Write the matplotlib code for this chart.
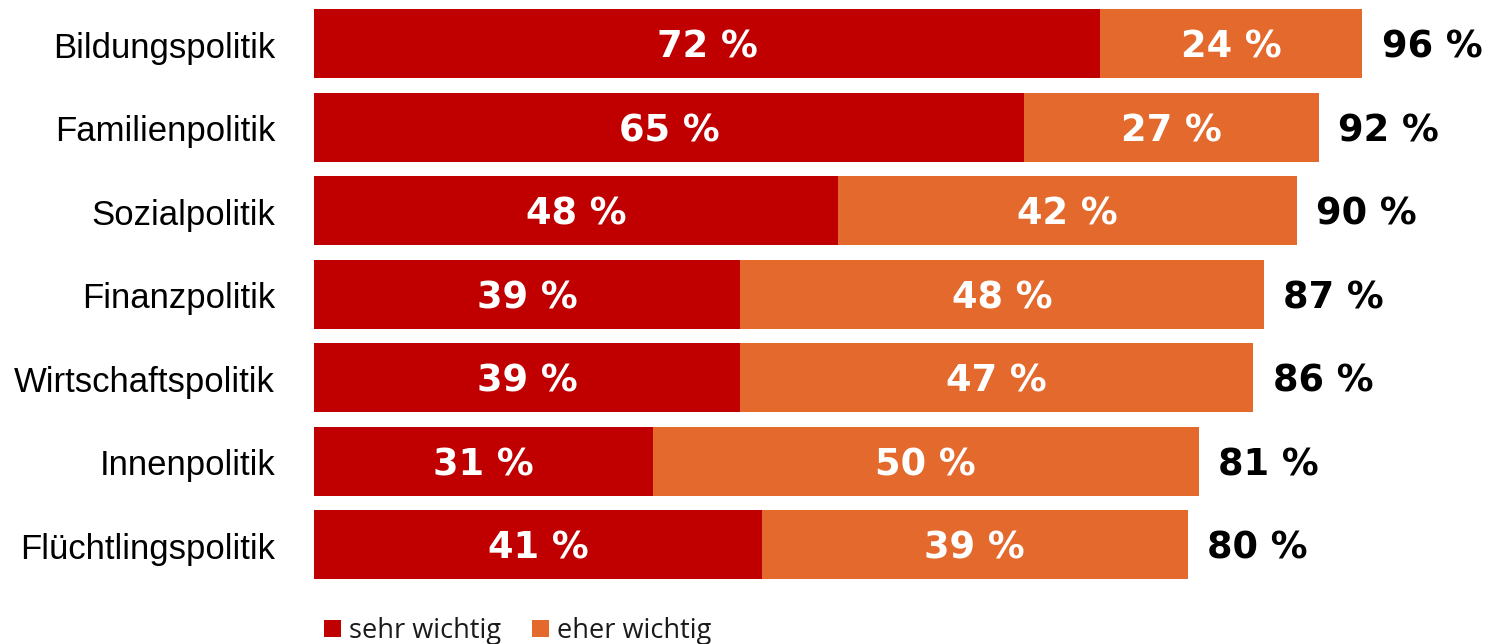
import matplotlib
matplotlib.use("Agg")
import matplotlib.pyplot as plt
from matplotlib.patches import Rectangle

categories = ["Bildungspolitik", "Familienpolitik", "Sozialpolitik", "Finanzpolitik",
              "Wirtschaftspolitik", "Innenpolitik", "Flüchtlingspolitik"]
sehr_wichtig = [72, 65, 48, 39, 39, 31, 41]
eher_wichtig = [24, 27, 42, 48, 47, 50, 39]
gesamt = [96, 92, 90, 87, 86, 81, 80]
series_names = ["sehr wichtig", "eher wichtig"]

RED = "#C00000"
ORANGE = "#E3692C"

W, H = 1491, 644
fig = plt.figure(figsize=(W / 100, H / 100), dpi=100)
px_per_unit = 10.92
left_px, top_px, bottom_px = 314, 2, 586.5
ax = fig.add_axes([left_px / W, 1 - bottom_px / H, (W - left_px) / W, (bottom_px - top_px) / H])
ax.set_xlim(0, (W - left_px) / px_per_unit)
n = len(categories)
ax.set_ylim(n - 0.5, -0.5)

ypos = list(range(n))
h = 0.83
ax.barh(ypos, sehr_wichtig, height=h, color=RED, linewidth=0)
ax.barh(ypos, eher_wichtig, left=sehr_wichtig, height=h, color=ORANGE, linewidth=0)

vfont = dict(family="DejaVu Sans", weight="bold", fontsize=26.5)
dy = 0.165  # baseline shift (data units) so digits are centred on the bar
for i in range(n):
    s, e, t = sehr_wichtig[i], eher_wichtig[i], gesamt[i]
    ax.text(s / 2, i + dy, f"{s} %", ha="center", va="baseline", color="white", **vfont)
    ax.text(s + e / 2, i + dy, f"{e} %", ha="center", va="baseline", color="white", **vfont)
    ax.annotate(f"{t} %", xy=(s + e, i + dy), xytext=(14, 0), textcoords="offset points",
                ha="left", va="baseline", color="black", **vfont)

ax.set_yticks([])
for i, c in enumerate(categories):
    ax.annotate(c, xy=(0, i + dy), xytext=(-28, 0), textcoords="offset points",
                ha="right", va="baseline", family="Liberation Sans", fontsize=25, color="black")
ax.set_xticks([])
for sp in ax.spines.values():
    sp.set_visible(False)

# legend
sq = 17
for x0, col, name in [(324, RED, series_names[0]), (532, ORANGE, series_names[1])]:
    fig.patches.append(Rectangle((x0 / W, (H - 637) / H), sq / W, sq / H,
                                 transform=fig.transFigure, color=col, linewidth=0))
    fig.text((x0 + 25) / W, (H - 638) / H, name, family="Open Sans", fontsize=19.5,
             ha="left", va="baseline", color="#1a1a1a")

fig.savefig("out.png", dpi=100)
